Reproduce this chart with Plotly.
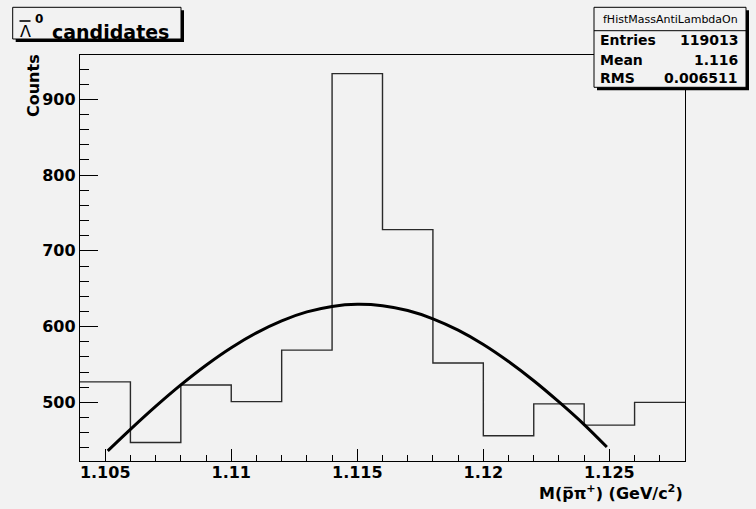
import plotly.graph_objects as go

# ---- data ----
bin_edges = [1.104, 1.106, 1.108, 1.110, 1.112, 1.114, 1.116, 1.118, 1.120, 1.122, 1.124, 1.126, 1.128]
bin_counts = [527, 447, 523, 501, 569, 934, 728, 552, 456, 498, 470, 500]

# fitted curve
fit_x = [1.1051, 1.106, 1.107, 1.108, 1.109, 1.110, 1.111, 1.112, 1.113, 1.114, 1.115,
         1.116, 1.117, 1.118, 1.119, 1.120, 1.121, 1.122, 1.123, 1.124, 1.1249]
fit_y = [436, 464.4, 494.7, 523.1, 549.1, 572.2, 591.8, 607.7, 619.4, 626.7, 629.5,
         627.6, 621.2, 610.3, 595.3, 576.4, 553.9, 528.5, 500.5, 470.6, 441]

x_tickvals = [1.105, 1.11, 1.115, 1.12, 1.125]
x_ticktext = ["1.105", "1.11", "1.115", "1.12", "1.125"]
y_tickvals = [500, 600, 700, 800, 900]
y_ticktext = ["500", "600", "700", "800", "900"]

stats_name = "fHistMassAntiLambdaOn"
stats_labels = ["Entries", "Mean", "RMS"]
stats_values = ["119013", "1.116", "0.006511"]

# ---- geometry helpers (pixel -> paper) ----
W, H = 756, 509
L, R, T, B = 80, 71, 55, 48
PW, PH = W - L - R, H - T - B


def px(x):
    return (x - L) / PW


def py(y):
    return (H - B - y) / PH


BG = "#f2f2f2"
FONT = "DejaVu Sans"

hist_x = bin_edges[:-1] + [bin_edges[-1]]
hist_y = bin_counts + [bin_counts[-1]]

fig = go.Figure()
fig.add_trace(go.Scatter(
    x=hist_x, y=hist_y, mode="lines", line_shape="hv",
    line=dict(color="#2a2a2a", width=1.4), hoverinfo="skip", showlegend=False))
fig.add_trace(go.Scatter(
    x=fit_x, y=fit_y, mode="lines", line_shape="spline",
    line=dict(color="black", width=3, smoothing=0.8), hoverinfo="skip", showlegend=False))

axis_common = dict(
    showline=True, mirror=True, linecolor="black", linewidth=1.2,
    showgrid=False, zeroline=False, ticks="inside", tickcolor="black",
    tickfont=dict(family=FONT, size=16, color="black", weight="bold"),
)

fig.update_xaxes(
    range=[bin_edges[0], bin_edges[-1]],
    tickvals=x_tickvals, ticktext=x_ticktext, ticklen=12, tickwidth=1,
    ticklabelstandoff=-3,
    minor=dict(ticks="inside", dtick=0.001, tick0=1.104, ticklen=6, tickcolor="black", showgrid=False),
    **axis_common)
fig.update_yaxes(
    range=[422.6, 958.6],
    tickvals=y_tickvals, ticktext=y_ticktext, ticklen=18, tickwidth=1,
    minor=dict(ticks="inside", dtick=20, tick0=0, ticklen=9, tickcolor="black", showgrid=False),
    **axis_common)

shapes = []
annotations = []

# title box with shadow
shapes.append(dict(type="rect", xref="paper", yref="paper",
                   x0=px(15.7), x1=px(184), y0=py(42), y1=py(10.3),
                   fillcolor="black", line=dict(width=0)))
shapes.append(dict(type="rect", xref="paper", yref="paper",
                   x0=px(12.7), x1=px(181), y0=py(39), y1=py(7.3),
                   fillcolor=BG, line=dict(color="black", width=1)))
shapes.append(dict(type="line", xref="paper", yref="paper",
                   x0=px(19.5), x1=px(30.5), y0=py(21), y1=py(21),
                   line=dict(color="black", width=1.6)))
annotations.append(dict(text="Λ", xref="paper", yref="paper", x=px(25), y=py(31.5),
                        xanchor="center", yanchor="middle", showarrow=False,
                        font=dict(family=FONT, size=16, color="black")))
annotations.append(dict(text="<b>0</b>", xref="paper", yref="paper", x=px(38.5), y=py(19.5),
                        xanchor="center", yanchor="middle", showarrow=False,
                        font=dict(family=FONT, size=12, color="black")))
annotations.append(dict(text="<b>candidates</b>", xref="paper", yref="paper", x=px(50), y=py(31.5),
                        xanchor="left", yanchor="middle", showarrow=False,
                        font=dict(family=FONT, size=19, color="black")))

# stats box with shadow
shapes.append(dict(type="rect", xref="paper", yref="paper",
                   x0=px(597), x1=px(749), y0=py(90.3), y1=py(10.3),
                   fillcolor="black", line=dict(width=0)))
shapes.append(dict(type="rect", xref="paper", yref="paper",
                   x0=px(594), x1=px(746), y0=py(87.3), y1=py(7.3),
                   fillcolor=BG, line=dict(color="black", width=1)))
shapes.append(dict(type="line", xref="paper", yref="paper",
                   x0=px(594), x1=px(746), y0=py(30.7), y1=py(30.7),
                   line=dict(color="black", width=1)))
annotations.append(dict(text=stats_name, xref="paper", yref="paper", x=px(670), y=py(19),
                        xanchor="center", yanchor="middle", showarrow=False,
                        font=dict(family=FONT, size=11, color="black")))
row_y = [40.5, 60, 78.4]
for lab, val, yy in zip(stats_labels, stats_values, row_y):
    annotations.append(dict(text="<b>%s</b>" % lab, xref="paper", yref="paper", x=px(598), y=py(yy),
                            xanchor="left", yanchor="middle", showarrow=False,
                            font=dict(family=FONT, size=14, color="black")))
    annotations.append(dict(text="<b>%s</b>" % val, xref="paper", yref="paper", x=px(740.5), y=py(yy),
                            xanchor="right", yanchor="middle", showarrow=False,
                            font=dict(family=FONT, size=14, color="black")))

# axis titles
annotations.append(dict(text="<b>Counts</b>", xref="paper", yref="paper", x=px(33.5), y=py(85.5),
                        xanchor="center", yanchor="middle", textangle=-90, showarrow=False,
                        font=dict(family=FONT, size=16, color="black")))
annotations.append(dict(text="<b>M(p\u0305π<sup>+</sup>) (GeV/c<sup>2</sup>)</b>", xref="paper", yref="paper",
                        x=px(685), y=py(493), xanchor="right", yanchor="middle", showarrow=False,
                        font=dict(family=FONT, size=16, color="black")))

fig.update_layout(
    width=W, height=H,
    margin=dict(l=L, r=R, t=T, b=B, pad=0),
    paper_bgcolor=BG, plot_bgcolor=BG,
    shapes=shapes, annotations=annotations,
    showlegend=False,
)

fig.write_html("out.html",
               config={"displayModeBar": False, "staticPlot": True},
               post_script="document.body.style.margin='0px';document.body.style.padding='0px';"
                           "document.body.style.overflow='hidden';")
